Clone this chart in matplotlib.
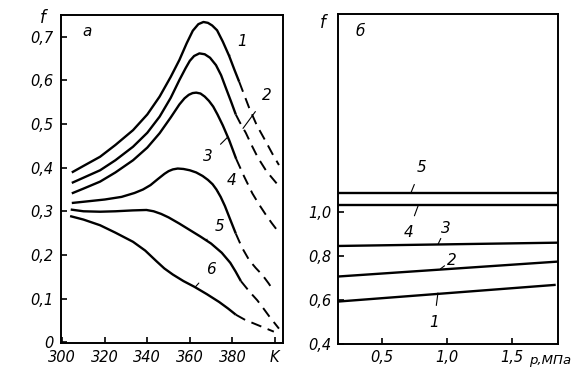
import matplotlib
matplotlib.use('Agg')
import matplotlib.pyplot as plt
from matplotlib.ticker import FuncFormatter

# --- panel a: f vs T (K), solid part + dashed continuation ---
t1 = [304.5, 310, 317.8, 325, 333.3, 340, 345.8, 351, 355.1, 358.5, 361.4, 364, 366.4, 368.5, 370.5,
      372.8, 375.5, 378.5, 381, 383.2]
f1 = [0.389, 0.404, 0.425, 0.452, 0.486, 0.522, 0.563, 0.608, 0.647, 0.685, 0.714, 0.729, 0.734, 0.732,
      0.726, 0.715, 0.689, 0.656, 0.624, 0.597]
t1d = [383.2, 387.9, 391.5, 395.6, 398.8, 401.9]
f1d = [0.597, 0.537, 0.497, 0.461, 0.432, 0.406]

t2 = [304.5, 310, 317.8, 325, 333.3, 340, 345.8, 351, 355.1, 358, 360, 362, 364.5, 367, 369.5,
      372.3, 374.7, 377, 379.5, 381.6]
f2 = [0.365, 0.377, 0.394, 0.417, 0.448, 0.480, 0.517, 0.560, 0.601, 0.628, 0.645, 0.656, 0.662, 0.660,
      0.652, 0.635, 0.612, 0.582, 0.550, 0.522]
t2d = [381.6, 383.5, 386.3, 389, 392, 396, 400.8]
f2d = [0.522, 0.504, 0.480, 0.452, 0.423, 0.392, 0.364]

t3 = [304.5, 310, 317.8, 325, 333.3, 340, 345.8, 351, 355.1, 357.5, 359.5, 361.3, 363, 365, 367,
      369, 371, 373, 375.5, 378.5, 381.8]
f3 = [0.341, 0.352, 0.368, 0.389, 0.417, 0.446, 0.479, 0.515, 0.545, 0.559, 0.567, 0.571, 0.572, 0.570,
      0.563, 0.553, 0.540, 0.522, 0.497, 0.463, 0.420]
t3d = [381.8, 385.5, 389.4, 392.5, 395.6, 398.5, 401.0]
f3d = [0.420, 0.380, 0.341, 0.316, 0.293, 0.273, 0.257]

t4 = [304.5, 312.3, 320, 327.9, 334, 338, 341.5, 345, 348.1, 350, 352, 354.3, 357, 360, 363, 366,
      368.5, 370.7, 372.5, 374.5, 376.5, 379, 381.6]
f4 = [0.319, 0.323, 0.327, 0.333, 0.342, 0.350, 0.360, 0.374, 0.386, 0.392, 0.396, 0.398, 0.397, 0.394,
      0.389, 0.381, 0.372, 0.362, 0.350, 0.333, 0.312, 0.281, 0.249]
t4d = [381.6, 384.5, 387.9, 391, 394.1, 397, 399.5]
f4d = [0.249, 0.217, 0.188, 0.170, 0.154, 0.135, 0.117]

t5 = [304, 310, 317.8, 325, 333, 339.6, 343, 346.5, 350, 355, 360, 365, 370, 375, 379, 381.5, 384]
f5 = [0.304, 0.300, 0.299, 0.300, 0.302, 0.303, 0.300, 0.294, 0.286, 0.272, 0.257, 0.242, 0.226, 0.205,
      0.182, 0.162, 0.140]
t5d = [384, 388, 391.7, 394.5, 397.2, 401.9]
f5d = [0.140, 0.116, 0.096, 0.078, 0.060, 0.031]

t6 = [303.7, 310, 317.8, 325, 333.3, 339, 344.2, 348, 352, 357, 362.1, 368, 373.8, 378, 381.6]
f6 = [0.289, 0.281, 0.268, 0.251, 0.230, 0.210, 0.186, 0.169, 0.155, 0.140, 0.127, 0.110, 0.092, 0.077, 0.063]
t6d = [381.6, 386, 391, 395.5, 399.5]
f6d = [0.063, 0.051, 0.041, 0.032, 0.024]

curves_a = [(t1, f1, t1d, f1d), (t2, f2, t2d, f2d), (t3, f3, t3d, f3d),
            (t4, f4, t4d, f4d), (t5, f5, t5d, f5d), (t6, f6, t6d, f6d)]

# label text, leader start on curve, text position
labels_a = [('1', (378.5, 0.656), (384.6, 0.690)),
            ('2', (385.0, 0.490), (396.3, 0.565)),
            ('3', (377.8, 0.470), (368.5, 0.425)),
            ('4', (373.0, 0.343), (379.5, 0.370)),
            ('5', (367.5, 0.233), (374.0, 0.265)),
            ('6', (362.5, 0.126), (370.0, 0.167))]

t_ticks = [300, 320, 340, 360, 380, 400]
t_ticklabels = ['300', '320', '340', '360', '380', 'K']
fa_ticks = [0, 0.1, 0.2, 0.3, 0.4, 0.5, 0.6, 0.7]

# --- panel б: f vs p (MPa) ---
p_ends = [0.16, 1.86]
fb = {'1': [0.591, 0.667], '2': [0.705, 0.773], '3': [0.844, 0.859],
      '4': [1.032, 1.032], '5': [1.084, 1.084]}
p_end1 = 1.84
labels_b = [('5', (0.72, 1.084), (0.80, 1.20)),
            ('4', (0.78, 1.032), (0.70, 0.905)),
            ('3', (0.93, 0.851), (0.99, 0.925)),
            ('2', (0.95, 0.740), (1.04, 0.780)),
            ('1', (0.93, 0.630), (0.90, 0.495))]
p_ticks = [0.5, 1.0, 1.5]
fb_ticks = [0.4, 0.6, 0.8, 1.0]

plt.rcParams['font.family'] = 'DejaVu Sans'
plt.rcParams['font.style'] = 'italic'

fig = plt.figure(figsize=(5.87, 3.75), dpi=100)
ax1 = fig.add_axes([0.1031, 0.0853, 0.379, 0.8747])
ax2 = fig.add_axes([0.5763, 0.084, 0.3748, 0.8787])

lw = 1.7
for ts, fs, td, fd in curves_a:
    ax1.plot(ts, fs, color='black', lw=lw, solid_capstyle='butt', solid_joinstyle='round')
    ax1.plot(td, fd, color='black', lw=1.4, dashes=(5.5, 3.5))

for txt, xy, xyt in labels_a:
    ax1.annotate(txt, xy=xy, xytext=xyt, fontsize=11, style='italic',
                 ha='center', va='center',
                 arrowprops=dict(arrowstyle='-', lw=0.8, color='black', shrinkA=5, shrinkB=0))

ax1.set_xlim(299.2, 403.8)
ax1.set_ylim(-0.002, 0.75)
ax1.set_xticks(t_ticks)
ax1.set_xticklabels(t_ticklabels)
ax1.set_yticks(fa_ticks)
ax1.yaxis.set_major_formatter(FuncFormatter(lambda v, pos: '0' if v == 0 else ('%.1f' % v).replace('.', ',')))
ax1.text(311.5, 0.712, 'а', fontsize=11, style='italic', ha='center', va='center')

for name, ys in fb.items():
    x1 = p_end1 if name == '1' else p_ends[1]
    ax2.plot([p_ends[0], x1], ys, color='black', lw=lw, solid_capstyle='butt')

for txt, xy, xyt in labels_b:
    ax2.annotate(txt, xy=xy, xytext=xyt, fontsize=11, style='italic',
                 ha='center', va='center',
                 arrowprops=dict(arrowstyle='-', lw=0.8, color='black', shrinkA=5, shrinkB=0))

ax2.set_xlim(0.16, 1.86)
ax2.set_ylim(0.4, 1.9)
ax2.set_xticks(p_ticks)
ax2.set_yticks(fb_ticks)
ax2.xaxis.set_major_formatter(FuncFormatter(lambda v, pos: ('%.1f' % v).replace('.', ',')))
ax2.yaxis.set_major_formatter(FuncFormatter(lambda v, pos: ('%.1f' % v).replace('.', ',')))
ax2.text(0.33, 1.82, 'б', fontsize=11, style='italic', ha='center', va='center')
ax2.text(0.865, -0.052, 'p,МПа', transform=ax2.transAxes, fontsize=9.5, style='italic',
         ha='left', va='center')

for ax in (ax1, ax2):
    ax.tick_params(direction='in', length=4, width=1.2, labelsize=10.5, pad=5)
    for s in ax.spines.values():
        s.set_linewidth(1.4)
    for lab in ax.get_xticklabels() + ax.get_yticklabels():
        lab.set_style('italic')

fig.text(43 / 587, 1 - 18 / 375, 'f', fontsize=12, style='italic', ha='center', va='center')
fig.text(323 / 587, 1 - 23 / 375, 'f', fontsize=12, style='italic', ha='center', va='center')

fig.savefig('out.png', dpi=100)
